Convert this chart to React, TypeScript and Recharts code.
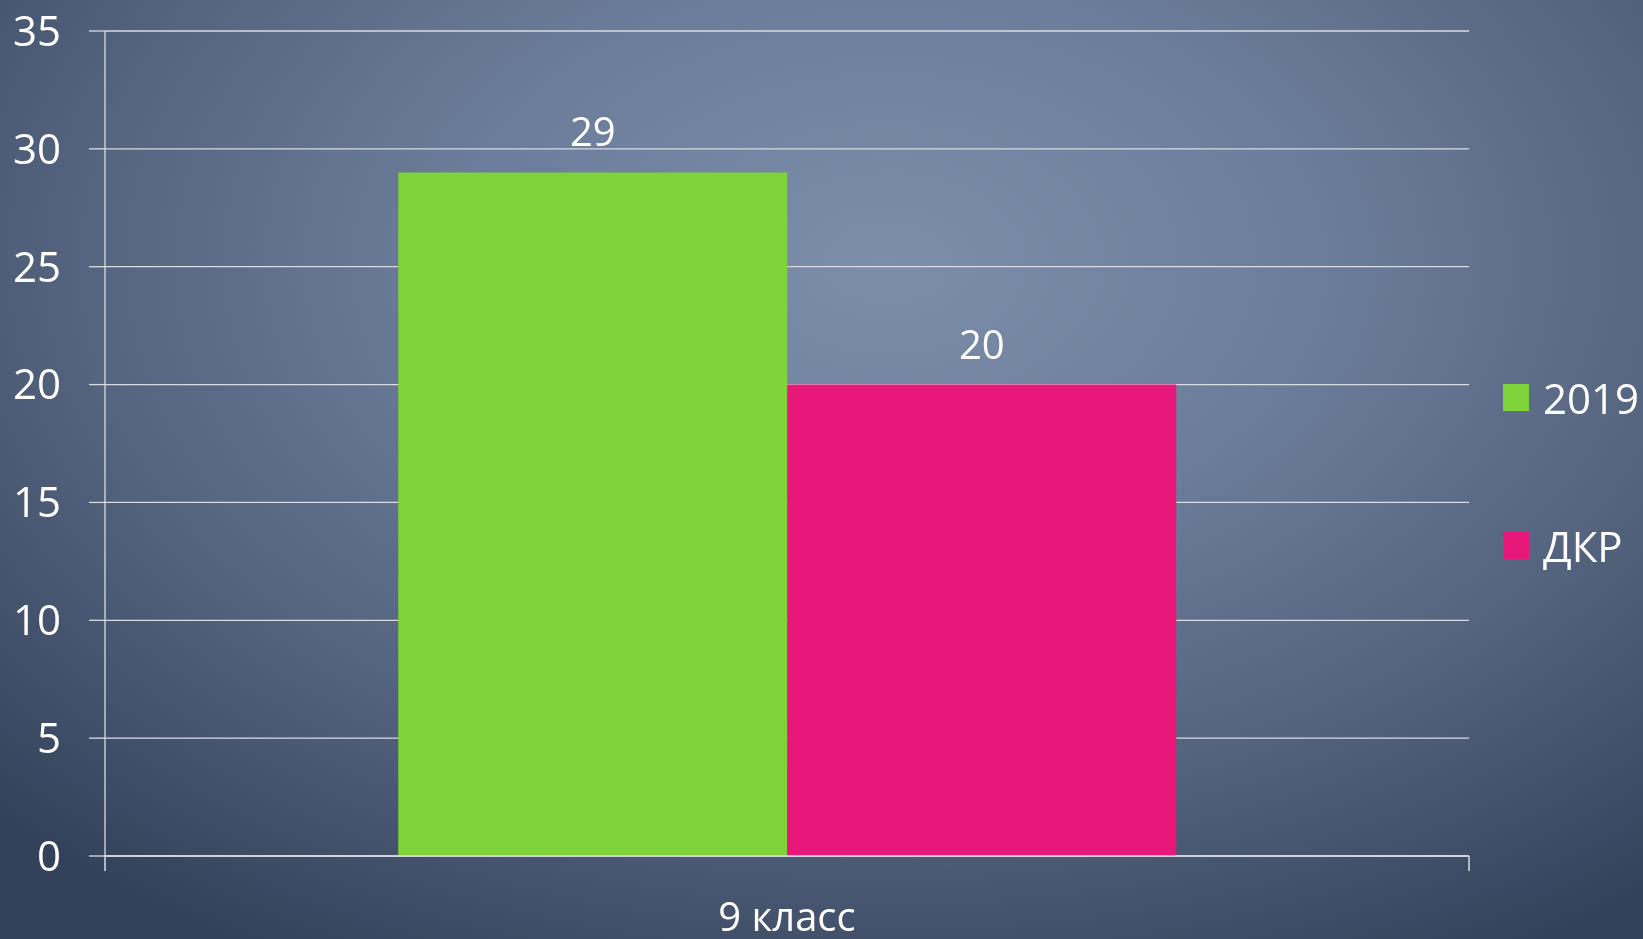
import React from "react"
import { BarChart, Bar, XAxis, YAxis, CartesianGrid, LabelList } from "recharts"

// data
const categories = ["9 класс"]
const seriesNames = ["2019", "ДКР"]
const values2019 = [29]
const valuesDkr = [20]
const yTicks = [0, 5, 10, 15, 20, 25, 30, 35]

const seriesColors = ["#7ed33b", "#e8177a"]
const seriesKeys = ["v2019", "vDkr"]

const data = categories.map((name, i) => ({
  name,
  v2019: values2019[i],
  vDkr: valuesDkr[i],
}))

const font = "Open Sans, Calibri, sans-serif"
const textColor = "#ffffff"
const lineColor = "#d9dce3"

// category tick: label in the middle, tick marks at the band edges (Excel style)
function CategoryTick(props: any) {
  const { x, y, payload } = props
  const half = payload?.offset ?? 0
  const base = y - 8 // y already includes tickMargin, back to the axis line
  return (
    <g>
      <line x1={x - half} y1={base} x2={x - half} y2={base + 15} stroke={lineColor} strokeWidth={1.5} />
      <line x1={x + half} y1={base} x2={x + half} y2={base + 15} stroke={lineColor} strokeWidth={1.5} />
      <text x={x} y={base + 75} textAnchor="middle" fill={textColor} fontSize={40} fontFamily={font}>
        {payload.value}
      </text>
    </g>
  )
}

export default function App() {
  return (
    <div
      style={{
        position: "fixed",
        left: 0,
        top: 0,
        width: 1643,
        height: 939,
        overflow: "hidden",
        fontFamily: font,
        background:
          "radial-gradient(ellipse 75% 85% at 54% 28%, #7d8eab 0%, #6c7d9b 35%, #55647f 65%, #34415b 100%)",
      }}
    >
      <BarChart
        width={1643}
        height={939}
        data={data}
        margin={{ top: 31, right: 174, left: 0, bottom: 0 }}
        barCategoryGap="21.5%"
        barGap={0}
      >
        <CartesianGrid vertical={false} stroke={lineColor} strokeWidth={1.3} />
        <XAxis
          dataKey="name"
          height={83}
          axisLine={{ stroke: lineColor, strokeWidth: 1.5 }}
          tickLine={false}
          tickSize={0}
          tickMargin={8}
          tick={<CategoryTick />}
        />
        <YAxis
          domain={[0, 35]}
          ticks={yTicks}
          width={105}
          interval={0}
          axisLine={{ stroke: lineColor, strokeWidth: 1.3 }}
          tickLine={{ stroke: lineColor, strokeWidth: 1.3 }}
          tickSize={16}
          tickMargin={28}
          tick={{ fill: textColor, fontSize: 42, fontFamily: font }}
        />
        {seriesKeys.map((k, i) => (
          <Bar
            key={k}
            dataKey={k}
            name={seriesNames[i]}
            fill={seriesColors[i]}
            isAnimationActive={false}
          >
            <LabelList
              dataKey={k}
              position="top"
              offset={26}
              fill={textColor}
              fontSize={40}
              fontFamily={font}
            />
          </Bar>
        ))}
      </BarChart>
      {/* legend */}
      <div style={{ position: "absolute", left: 1503, top: 372 }}>
        {seriesNames.map((n, i) => (
          <div
            key={n}
            style={{
              display: "flex",
              alignItems: "center",
              height: 50,
              marginBottom: 98,
              color: textColor,
              fontSize: 42,
              whiteSpace: "nowrap",
            }}
          >
            <span
              style={{
                display: "inline-block",
                width: 26,
                height: 27,
                background: seriesColors[i],
                marginRight: 14,
              }}
            />
            {n}
          </div>
        ))}
      </div>
    </div>
  )
}
